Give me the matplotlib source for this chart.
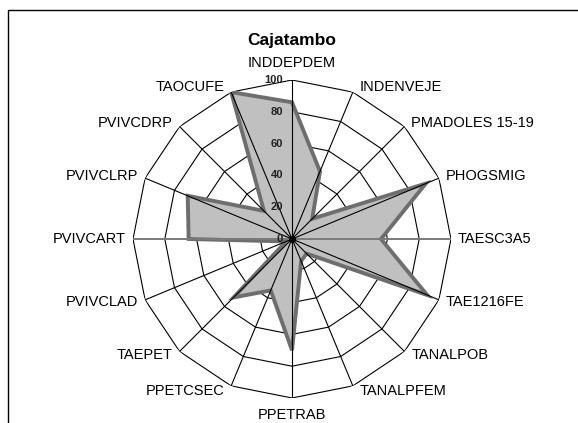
import numpy as np
import matplotlib
matplotlib.use("Agg")
import matplotlib.pyplot as plt
from matplotlib.patches import Rectangle

plt.rcParams["font.family"] = ["Liberation Sans", "DejaVu Sans"]

TITLE = "Cajatambo"
CATEGORIES = ["INDDEPDEM", "INDENVEJE", "PMADOLES 15-19", "PHOGSMIG", "TAESC3A5",
              "TAE1216FE", "TANALPOB", "TANALPFEM", "PPETRAB", "PPETCSEC",
              "TAEPET", "PVIVCLAD", "PVIVCART", "PVIVCLRP", "PVIVCDRP", "TAOCUFE"]
VALUES = [86, 46, 18, 91, 56, 92, 13, 15, 70, 35, 52, 4, 65, 71, 25, 100]
RINGS = [20, 40, 60, 80, 100]
TICKS = [0, 20, 40, 60, 80, 100]

W, H = 578, 423
CX, CY, R = 292, 239, 159

fig = plt.figure(figsize=(W / 100, H / 100), dpi=100)
fig.patch.set_facecolor("white")

# frame (runs off the right/bottom of the picture, as in the source)
fig.patches.append(Rectangle((8 / W, -0.1), 2, 1 - 10 / H + 0.1,
                             transform=fig.transFigure, fill=False,
                             edgecolor="black", linewidth=1.0))

ax = fig.add_axes([(CX - R) / W, (H - CY - R) / H, 2 * R / W, 2 * R / H],
                  projection="polar")
ax.set_theta_zero_location("N")
ax.set_theta_direction(-1)
ax.set_ylim(0, 100)
ax.grid(False)
ax.set_xticks([])
ax.set_yticks([])
ax.spines["polar"].set_visible(False)
ax.patch.set_alpha(0)

n = len(CATEGORIES)
theta = np.arange(n) * 2 * np.pi / n
th_c = np.append(theta, theta[0])

# polygon rings
for r in RINGS:
    ax.plot(th_c, [r] * (n + 1), color="black", linewidth=0.8, zorder=1)

# data polygon
vals_c = np.append(VALUES, VALUES[0])
ax.fill(th_c, vals_c, facecolor="#C0C0C0", edgecolor="#6E6E6E",
        linewidth=2.8, joinstyle="miter", zorder=2)

# spokes
for i, t in enumerate(theta):
    horiz = i in (4, 12)
    ax.plot([t, t], [0, 100], color="#7A7A7A" if horiz else "black",
            linewidth=1.4 if horiz else 0.8, zorder=3)
ax.plot([0], [0], "o", color="black", markersize=4, zorder=4)

# value ticks along the vertical axis
for r in TICKS:
    ax.annotate(str(r), (0, r), xytext=(-9, 0), textcoords="offset pixels",
                ha="right", va="center", fontsize=8, fontweight="bold",
                color="#222222", zorder=5)

# category labels
for t, lab in zip(theta, CATEGORIES):
    s, c = np.sin(t), np.cos(t)
    if abs(s) < 1e-6:
        ha = "center"
        dx, dy = 0, 17 * np.sign(c)
    else:
        ha = "left" if s > 0 else "right"
        dx, dy = 7 * np.sign(s), 5 * c
    ax.annotate(lab, (t, 100), xytext=(dx, dy), textcoords="offset pixels",
                ha=ha, va="center", fontsize=10.5, annotation_clip=False)

fig.text(CX / W, 1 - 40 / H, TITLE, ha="center", va="center",
         fontsize=12.5, fontweight="bold")

fig.savefig("out.png", dpi=100)
